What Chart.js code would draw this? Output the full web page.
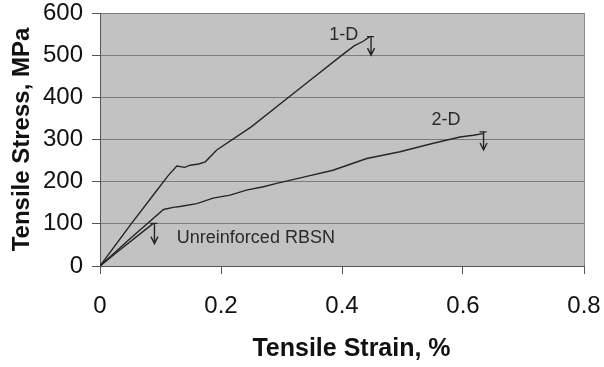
<!DOCTYPE html>
<html><head><meta charset="utf-8">
<style>html,body{margin:0;padding:0;background:#fff}#wrap{width:604px;height:367px}</style>
<script src="https://cdn.jsdelivr.net/npm/chart.js@4.4.1/dist/chart.umd.min.js"></script>
</head><body><div id="wrap"><canvas id="c" width="604" height="367"></canvas></div>
<script>
// ---- data ----
const strain1D = [0, 0.05, 0.09, 0.113, 0.127, 0.140, 0.149, 0.163, 0.174, 0.185, 0.193, 0.25, 0.33, 0.40, 0.42, 0.435, 0.446];
const stress1D = [0, 97, 172, 215, 237, 234, 239, 242, 247, 263, 275, 330, 421, 500, 522, 533, 544];
const strain2D = [0, 0.05, 0.105, 0.121, 0.132, 0.160, 0.187, 0.215, 0.242, 0.270, 0.292, 0.34, 0.385, 0.441, 0.496, 0.551, 0.595, 0.617, 0.633];
const stress2D = [0, 65, 134, 139, 141, 148, 161, 168, 180, 188, 196, 212, 227, 255, 271, 291, 306, 310, 314];
const strainRBSN = [0, 0.03, 0.06, 0.088];
const stressRBSN = [0, 35, 69, 101];

// failure arrows (strain, stress from -> to)
const failStrain = [0.448, 0.634, 0.090];
const failTop = [544, 318, 101];
const failBottom = [500, 275, 53];

// curve labels
const labelText = ['1-D', '2-D', 'Unreinforced RBSN'];
const labelStrain = [0.403, 0.572, 0.127];
const labelStress = [548, 346, 66];

const xTickLabels = ['0', '0.2', '0.4', '0.6', '0.8'];
const yTickLabels = ['0', '100', '200', '300', '400', '500', '600'];
const xTitle = 'Tensile Strain, %';
const yTitle = 'Tensile Stress, MPa';

const FONT = '"Liberation Sans", Arial, sans-serif';
const pts = (xs, ys) => xs.map((x, i) => ({x: x, y: ys[i]}));

const lineStyle = {showLine: true, borderColor: '#262626', borderWidth: 1.4, pointRadius: 0, tension: 0, fill: false};

const decor = {
  id: 'decor',
  beforeDraw(chart) {
    const {ctx, chartArea: a} = chart;
    ctx.save();
    ctx.fillStyle = '#ffffff';
    ctx.fillRect(0, 0, chart.width, chart.height);
    ctx.fillStyle = '#c2c2c2';
    ctx.fillRect(a.left, a.top, a.right - a.left, a.bottom - a.top);
    ctx.restore();
  },
  afterDraw(chart) {
    const {ctx, chartArea: a} = chart;
    const xs = chart.scales.x, ys = chart.scales.y;
    ctx.save();
    // right border of plot area
    ctx.strokeStyle = '#8a8a8a';
    ctx.lineWidth = 1;
    ctx.beginPath();
    ctx.moveTo(Math.round(a.right) + 0.5, a.top);
    ctx.lineTo(Math.round(a.right) + 0.5, a.bottom);
    ctx.stroke();
    // failure arrows
    ctx.strokeStyle = '#262626';
    ctx.lineWidth = 1.4;
    for (let i = 0; i < failStrain.length; i++) {
      const px = xs.getPixelForValue(failStrain[i]);
      const py1 = ys.getPixelForValue(failTop[i]);
      const py2 = ys.getPixelForValue(failBottom[i]);
      ctx.beginPath();
      ctx.moveTo(px - 4, py1); ctx.lineTo(px + 3, py1);
      ctx.moveTo(px, py1); ctx.lineTo(px, py2);
      ctx.moveTo(px - 3.5, py2 - 7); ctx.lineTo(px, py2); ctx.lineTo(px + 3.5, py2 - 7);
      ctx.stroke();
    }
    // labels
    ctx.fillStyle = '#2a2a2a';
    ctx.font = '18px ' + FONT;
    ctx.textBaseline = 'middle';
    for (let i = 0; i < labelText.length; i++) {
      ctx.textAlign = i === 2 ? 'left' : 'center';
      ctx.fillText(labelText[i], xs.getPixelForValue(labelStrain[i]), ys.getPixelForValue(labelStress[i]));
    }
    // x axis title
    ctx.fillStyle = '#111';
    ctx.font = 'bold 25px ' + FONT;
    ctx.textAlign = 'center';
    ctx.fillText(xTitle, 351.5, 349);
    ctx.restore();
  }
};

new Chart(document.getElementById('c'), {
  type: 'scatter',
  data: {
    datasets: [
      Object.assign({label: '1-D', data: pts(strain1D, stress1D)}, lineStyle),
      Object.assign({label: '2-D', data: pts(strain2D, stress2D)}, lineStyle),
      Object.assign({label: 'Unreinforced RBSN', data: pts(strainRBSN, stressRBSN)}, lineStyle)
    ]
  },
  options: {
    responsive: false,
    devicePixelRatio: 1,
    animation: false,
    layout: {padding: {top: 13, right: 20, left: 0, bottom: 0}},
    plugins: {legend: {display: false}, tooltip: {enabled: false}, title: {display: false}},
    scales: {
      x: {
        type: 'linear', min: 0, max: 0.8,
        afterFit(s) { s.height = 101; s.paddingLeft = 0; s.paddingRight = 0; },
        ticks: {stepSize: 0.2, padding: 18, color: '#111', font: {family: FONT, size: 24},
                callback: (v, i) => xTickLabels[i], maxRotation: 0},
        grid: {drawOnChartArea: false, drawTicks: true, tickLength: 8, tickColor: '#555'},
        border: {display: true, color: '#555', width: 1}
      },
      y: {
        type: 'linear', min: 0, max: 600,
        afterFit(s) { s.width = 100; s.paddingTop = 0; s.paddingBottom = 0; },
        ticks: {stepSize: 100, padding: 9, color: '#111', font: {family: FONT, size: 24, lineHeight: 1},
                callback: (v, i) => yTickLabels[i]},
        grid: {color: '#7c7c7c', lineWidth: 1, tickLength: 8, tickColor: '#555'},
        border: {display: true, color: '#555', width: 1},
        title: {display: true, text: yTitle, color: '#111', font: {family: FONT, size: 24, weight: 'bold'}, padding: {top: 8, bottom: 0}}
      }
    }
  },
  plugins: [decor]
});
</script></body></html>
